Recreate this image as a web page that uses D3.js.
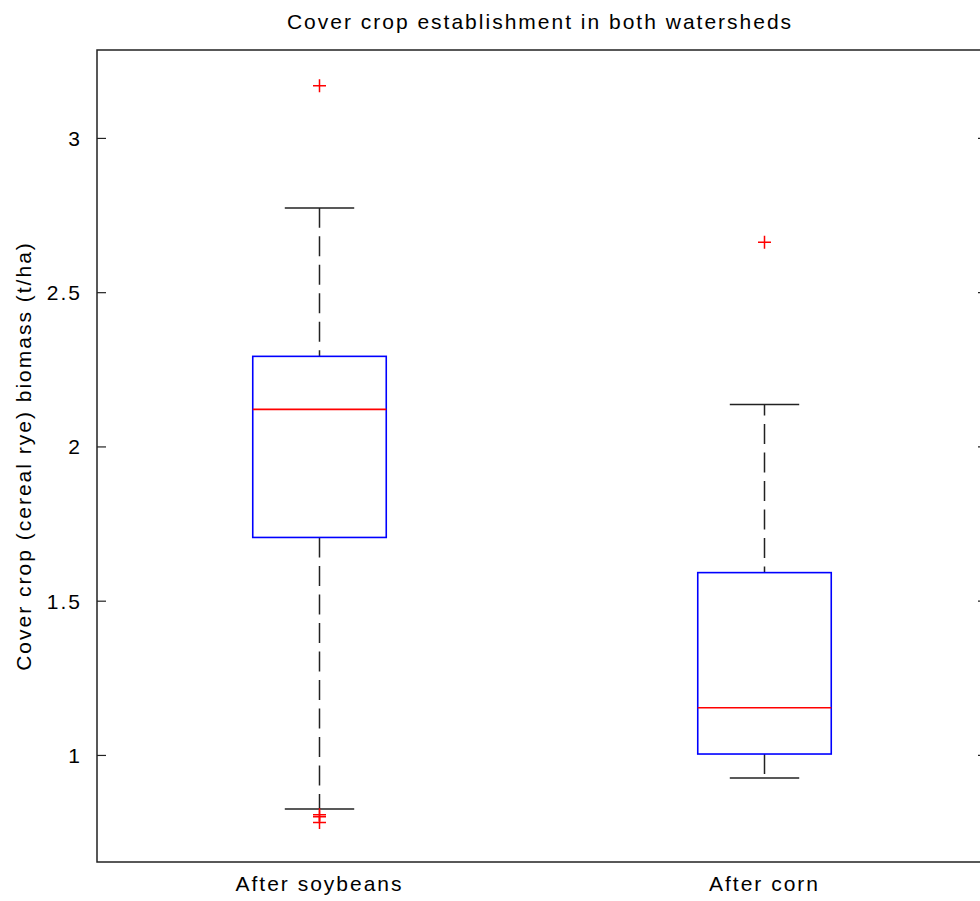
<!DOCTYPE html>
<html>
  <head>
    <meta charset="utf-8" />
    <style>
      body { margin: 0; background: #fff; }
      text {
        font-family: "Liberation Sans", Arial, sans-serif;
        font-size: 21px;
        letter-spacing: 2px;
        fill: #000;
      }
    </style>
  </head>
  <body>
    <svg width="980" height="901"></svg>
    <script src="https://d3js.org/d3.v7.min.js"></script>
    <script>
      // values (t/ha)
      var categories = ["After soybeans", "After corn"];
      var q1 = [1.705, 1.003];
      var median = [2.12, 1.153];
      var q3 = [2.292, 1.591];
      var whiskerLow = [0.825, 0.925];
      var whiskerHigh = [2.773, 2.136];
      var outliers = [[3.169, 0.806, 0.8, 0.781], [2.662]];
      var yTicks = [1, 1.5, 2, 2.5, 3];

      var svg = d3.select("svg");
      var mLeft = 97, mRight = 987, mTop = 50, mBottom = 862;

      var x = d3.scaleLinear().domain([0.5, 2.5]).range([mLeft, mRight]);
      var y = d3.scaleLinear().domain([0.653, 3.285]).range([mBottom, mTop]);

      var boxHalf = 0.15, capHalf = 0.078;

      var boxes = categories.map(function (c, i) {
        return {
          name: c, pos: i + 1, q1: q1[i], med: median[i], q3: q3[i],
          lo: whiskerLow[i], hi: whiskerHigh[i], out: outliers[i]
        };
      });

      // axes: ticks inward, left and right
      var yAxisL = d3.axisLeft(y).tickValues(yTicks).tickSizeInner(-9).tickSizeOuter(0)
        .tickPadding(15).tickFormat(d3.format("~g"));
      var gL = svg.append("g").attr("transform", "translate(" + mLeft + ",0)").call(yAxisL);
      gL.select(".domain").remove();
      gL.selectAll("text").attr("dy", "0.36em").style("font-size", "21px");

      var yAxisR = d3.axisRight(y).tickValues(yTicks).tickSizeInner(-9).tickSizeOuter(0)
        .tickFormat("");
      var gR = svg.append("g").attr("transform", "translate(" + mRight + ",0)").call(yAxisR);
      gR.select(".domain").remove();

      svg.append("rect")
        .attr("x", mLeft).attr("y", mTop)
        .attr("width", mRight - mLeft).attr("height", mBottom - mTop)
        .attr("fill", "none").attr("stroke", "#222").attr("stroke-width", 1.5);

      svg.selectAll(".tick line").attr("stroke", "#222").attr("stroke-width", 1.2);

      // x labels
      svg.selectAll(".xlab").data(boxes).enter().append("text")
        .attr("class", "xlab")
        .attr("x", function (d) { return x(d.pos); })
        .attr("y", 891)
        .attr("text-anchor", "middle")
        .text(function (d) { return d.name; });

      var g = svg.selectAll(".box").data(boxes).enter().append("g").attr("class", "box");

      // dashed whiskers
      g.append("line")
        .attr("x1", function (d) { return x(d.pos); })
        .attr("x2", function (d) { return x(d.pos); })
        .attr("y1", function (d) { return y(d.q3); })
        .attr("y2", function (d) { return y(d.hi); })
        .attr("stroke", "#222").attr("stroke-width", 1.5).attr("stroke-dasharray", "20,8.5")
        .attr("stroke-dashoffset", 14);
      g.append("line")
        .attr("x1", function (d) { return x(d.pos); })
        .attr("x2", function (d) { return x(d.pos); })
        .attr("y1", function (d) { return y(d.q1); })
        .attr("y2", function (d) { return y(d.lo); })
        .attr("stroke", "#222").attr("stroke-width", 1.5).attr("stroke-dasharray", "20,8.5");

      // caps
      ["hi", "lo"].forEach(function (k) {
        g.append("line")
          .attr("x1", function (d) { return x(d.pos - capHalf); })
          .attr("x2", function (d) { return x(d.pos + capHalf); })
          .attr("y1", function (d) { return y(d[k]); })
          .attr("y2", function (d) { return y(d[k]); })
          .attr("stroke", "#222").attr("stroke-width", 1.5);
      });

      // box
      g.append("rect")
        .attr("x", function (d) { return x(d.pos - boxHalf); })
        .attr("width", function (d) { return x(d.pos + boxHalf) - x(d.pos - boxHalf); })
        .attr("y", function (d) { return y(d.q3); })
        .attr("height", function (d) { return y(d.q1) - y(d.q3); })
        .attr("fill", "none").attr("stroke", "#0000ff").attr("stroke-width", 1.6);

      // median
      g.append("line")
        .attr("x1", function (d) { return x(d.pos - boxHalf); })
        .attr("x2", function (d) { return x(d.pos + boxHalf); })
        .attr("y1", function (d) { return y(d.med); })
        .attr("y2", function (d) { return y(d.med); })
        .attr("stroke", "#ff0000").attr("stroke-width", 1.6);

      // outliers as red plus signs
      var pts = [];
      boxes.forEach(function (b) { b.out.forEach(function (v) { pts.push({ pos: b.pos, v: v }); }); });
      svg.selectAll(".out").data(pts).enter().append("path")
        .attr("class", "out")
        .attr("d", function (d) {
          var cx = x(d.pos), cy = y(d.v), r = 6.5;
          return "M" + (cx - r) + "," + cy + "H" + (cx + r) + "M" + cx + "," + (cy - r) + "V" + (cy + r);
        })
        .attr("stroke", "#ff0000").attr("stroke-width", 1.5).attr("fill", "none");

      // title and y label
      svg.append("text")
        .attr("x", (mLeft + mRight) / 2 - 2).attr("y", 29)
        .attr("text-anchor", "middle")
        .text("Cover crop establishment in both watersheds");

      svg.append("text")
        .attr("transform", "translate(31," + (mTop + mBottom) / 2 + ") rotate(-90)")
        .attr("text-anchor", "middle")
        .text("Cover crop (cereal rye) biomass (t/ha)");
    </script>
  </body>
</html>
